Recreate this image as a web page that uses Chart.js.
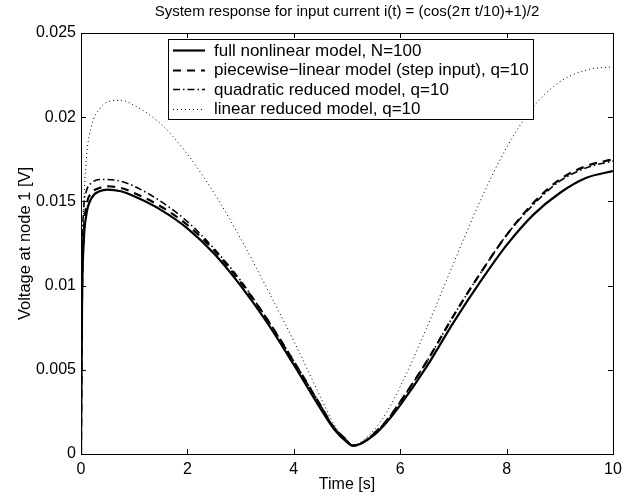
<!DOCTYPE html>
<html>
<head>
<meta charset="utf-8">
<script src="https://cdn.jsdelivr.net/npm/chart.js@4.4.0/dist/chart.umd.min.js"></script>
<style>
  html, body { margin: 0; padding: 0; background: #fff; }
  #chart { display: block; }
</style>
</head>
<body>
<canvas id="chart" width="641" height="498"></canvas>
<script>
// time samples [s] and read-off voltages [V]
const time = [0, 0.02, 0.05, 0.1, 0.2, 0.35, 0.5, 0.75, 1, 1.5, 2, 2.5, 3, 3.5, 4, 4.5, 4.75, 5, 5.1, 5.25, 5.5, 5.75, 6, 6.5, 7, 7.5, 8, 8.5, 9, 9.5, 10];
const fullModel = [0, 0.009, 0.0125, 0.0142, 0.0152, 0.0156, 0.0157, 0.0156, 0.0153, 0.0145, 0.0134, 0.0119, 0.0100, 0.0078, 0.0053, 0.0027, 0.0015, 0.0007, 0.0005, 0.0006, 0.0011, 0.0019, 0.0029, 0.0052, 0.0078, 0.0102, 0.0124, 0.0142, 0.0155, 0.0164, 0.0168];
const pwlModel = [0, 0.0095, 0.0130, 0.0147, 0.0155, 0.0158, 0.0159, 0.0158, 0.0155, 0.0147, 0.0136, 0.0121, 0.0102, 0.0080, 0.0055, 0.0029, 0.0016, 0.0008, 0.0005, 0.0006, 0.0012, 0.0020, 0.0031, 0.0055, 0.0082, 0.0107, 0.0130, 0.0149, 0.0163, 0.0171, 0.0175];
const quadModel = [0, 0.0110, 0.0145, 0.0156, 0.0161, 0.0163, 0.0163, 0.0162, 0.0159, 0.0150, 0.0138, 0.0122, 0.0103, 0.0080, 0.0055, 0.0029, 0.0016, 0.0008, 0.0005, 0.0006, 0.0012, 0.0020, 0.0031, 0.0055, 0.0082, 0.0107, 0.0130, 0.0148, 0.0162, 0.0170, 0.0174];
const linModel = [0, 0.0100, 0.0145, 0.0175, 0.0195, 0.0205, 0.0209, 0.0210, 0.0207, 0.0196, 0.0178, 0.0155, 0.0128, 0.0098, 0.0067, 0.0034, 0.0018, 0.0008, 0.0005, 0.0007, 0.0014, 0.0025, 0.0040, 0.0075, 0.0113, 0.0150, 0.0182, 0.0206, 0.0221, 0.0228, 0.0230];

const seriesLabels = [
  'full nonlinear model, N=100',
  'piecewise\u2212linear model (step input), q=10',
  'quadratic reduced model, q=10',
  'linear reduced model, q=10'
];
const xTicks = [0, 2, 4, 6, 8, 10];
const yTicks = [0, 0.005, 0.01, 0.015, 0.02, 0.025];
const yTickLabels = ['0', '0.005', '0.01', '0.015', '0.02', '0.025'];

const titleText = 'System response for input current i(t) = (cos(2\u03c0 t/10)+1)/2';
const FONT = '"Liberation Sans", Arial, Helvetica, sans-serif';

function pts(vals) {
  return time.map((t, i) => ({ x: t, y: vals[i] }));
}

const styles = [
  { width: 2.2, dash: [] },
  { width: 2.2, dash: [8, 6] },
  { width: 1.6, dash: [7, 3, 1.5, 3] },
  { width: 1, dash: [1, 3] }
];

const datasets = [fullModel, pwlModel, quadModel, linModel].map((vals, i) => ({
  label: seriesLabels[i],
  data: pts(vals),
  borderColor: '#000',
  borderWidth: styles[i].width,
  borderDash: styles[i].dash,
  pointRadius: 0,
  fill: false,
  cubicInterpolationMode: 'monotone'
}));

const decorations = {
  id: 'decorations',
  afterDatasetsDraw(chart) {
    const ctx = chart.ctx;
    const a = chart.chartArea;
    const xs = chart.scales.x, ys = chart.scales.y;
    ctx.save();
    ctx.setLineDash([]);
    ctx.strokeStyle = '#000';
    ctx.lineWidth = 1;
    // box
    ctx.strokeRect(Math.round(a.left) + 0.5, Math.round(a.top) + 0.5,
      Math.round(a.right - a.left), Math.round(a.bottom - a.top));
    // inward ticks
    ctx.beginPath();
    xTicks.forEach(v => {
      const px = Math.round(xs.getPixelForValue(v)) + 0.5;
      ctx.moveTo(px, a.bottom); ctx.lineTo(px, a.bottom - 5);
      ctx.moveTo(px, a.top); ctx.lineTo(px, a.top + 5);
    });
    yTicks.forEach(v => {
      const py = Math.round(ys.getPixelForValue(v)) + 0.5;
      ctx.moveTo(a.left, py); ctx.lineTo(a.left + 5, py);
      ctx.moveTo(a.right, py); ctx.lineTo(a.right - 5, py);
    });
    ctx.stroke();

    // legend
    const lx = 168, ly = 39, lw = 365, lh = 80;
    ctx.fillStyle = '#fff';
    ctx.fillRect(lx, ly, lw, lh);
    ctx.strokeRect(lx + 0.5, ly + 0.5, lw, lh);
    ctx.font = '17px ' + FONT;
    ctx.fillStyle = '#000';
    ctx.textBaseline = 'middle';
    ctx.textAlign = 'left';
    chart.data.datasets.forEach((ds, i) => {
      const cy = ly + 11 + i * 19.5;
      ctx.save();
      ctx.lineWidth = ds.borderWidth;
      ctx.setLineDash(ds.borderDash);
      ctx.beginPath();
      ctx.moveTo(173, Math.round(cy) + 0.5);
      ctx.lineTo(205, Math.round(cy) + 0.5);
      ctx.stroke();
      ctx.restore();
      ctx.fillText(ds.label, 214, cy + 1);
    });

    // title and axis labels
    ctx.textAlign = 'center';
    ctx.font = '15px ' + FONT;
    ctx.fillText(titleText, (a.left + a.right) / 2, 12);
    ctx.font = '16px ' + FONT;
    ctx.fillText('Time [s]', (a.left + a.right) / 2, 485);
    ctx.translate(25, (a.top + a.bottom) / 2);
    ctx.rotate(-Math.PI / 2);
    ctx.font = '16.5px ' + FONT;
    ctx.fillText('Voltage at node 1 [V]', 0, 0);
    ctx.restore();
  }
};

new Chart(document.getElementById('chart'), {
  type: 'line',
  data: { datasets },
  options: {
    responsive: false,
    animation: false,
    layout: { padding: { left: 0, top: 33, right: 28, bottom: 0 } },
    plugins: { legend: { display: false }, title: { display: false }, tooltip: { enabled: false } },
    scales: {
      x: {
        type: 'linear', min: 0, max: 10,
        afterFit: s => { s.height = 44; },
        afterBuildTicks: s => { s.ticks = xTicks.map(v => ({ value: v })); },
        grid: { display: false, drawTicks: false },
        border: { display: false },
        ticks: { color: '#000', padding: 6, font: { family: FONT, size: 16 }, maxRotation: 0,
          callback: v => String(v) }
      },
      y: {
        type: 'linear', min: 0, max: 0.025,
        afterFit: s => { s.width = 81; },
        afterBuildTicks: s => { s.ticks = yTicks.map(v => ({ value: v })); },
        grid: { display: false, drawTicks: false },
        border: { display: false },
        ticks: { color: '#000', padding: 5, font: { family: FONT, size: 16 },
          callback: (v, i) => yTickLabels[i] }
      }
    }
  },
  plugins: [decorations]
});
</script>
</body>
</html>
